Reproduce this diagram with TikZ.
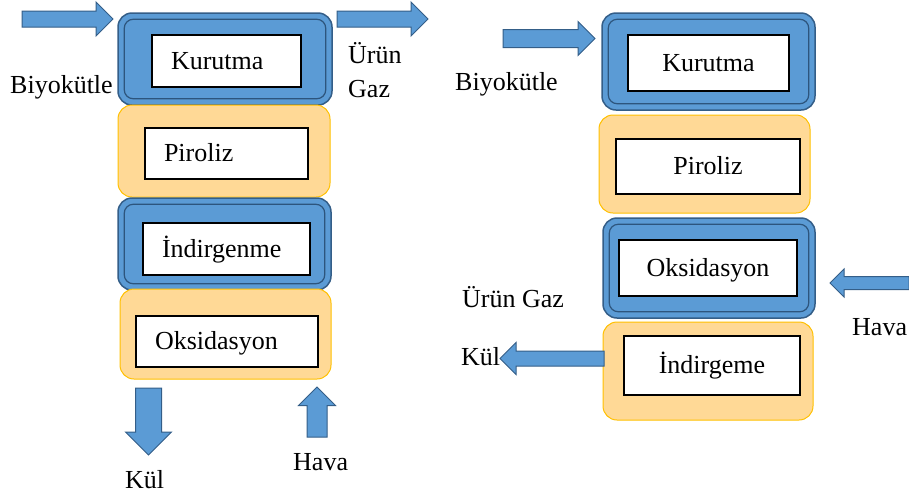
\documentclass[tikz,border=0pt]{standalone}
\usepackage{fontspec}
\setmainfont{Liberation Serif}
\usetikzlibrary{shapes.arrows, positioning, calc}

\definecolor{stageblue}{RGB}{91,155,213}
\definecolor{stageedge}{RGB}{52,94,136}
\definecolor{bevelline}{RGB}{45,85,125}
\definecolor{stageorange}{RGB}{255,217,150}
\definecolor{orangeedge}{RGB}{255,192,0}

\tikzstyle{bluestage} = [rectangle, draw=stageedge, line width=1.5pt, fill=stageblue, rounded corners=14pt, inner sep=0pt]
\tikzstyle{orangestage} = [rectangle, draw=orangeedge, line width=1pt, fill=stageorange, rounded corners=14pt, inner sep=0pt]
\tikzstyle{stepbox} = [rectangle, draw=black, line width=1.6pt, fill=white, inner sep=0pt, text height=20pt, text depth=4pt]
\tikzstyle{leftstep} = [stepbox, align=left, inner xsep=19pt]
\tikzstyle{bevel} = [draw=bevelline, line width=1.2pt, rounded corners=9pt]
\tikzstyle{flow} = [single arrow, draw=stageedge, line width=1pt, fill=stageblue, inner xsep=0pt, minimum width=0pt, single arrow tip angle=90, anchor=tip, outer sep=0pt]
\tikzstyle{plaintext} = [anchor=base west, inner sep=0pt]

\begin{document}
\begin{tikzpicture}[x=1pt, y=-1pt, font=\fontsize{26pt}{34pt}\selectfont]
    \useasboundingbox (0,0) rectangle (909,499);

    % Left column: stages
    \node[bluestage, minimum width=214pt, minimum height=92pt] (lkur) at (225,59) {};
    \node[orangestage, minimum width=212pt, minimum height=92pt] (lpir) at (224,151) {};
    \node[bluestage, minimum width=213pt, minimum height=92pt] (lind) at (224.5,244) {};
    \node[orangestage, minimum width=211pt, minimum height=90pt] (loks) at (225.5,334) {};
    \draw[bevel] ($(lkur.north west)+(7pt,-7pt)$) rectangle ($(lkur.south east)+(-7pt,7pt)$);
    \draw[bevel] ($(lind.north west)+(7pt,-7pt)$) rectangle ($(lind.south east)+(-7pt,7pt)$);

    \node[leftstep, text width=111pt, minimum height=52pt] (lkurin) at (226.5,61) {Kurutma};
    \node[leftstep, text width=125pt, minimum height=51pt] (lpirin) at (226.5,153.5) {Piroliz};
    \node[leftstep, text width=129pt, minimum height=52pt] (lindin) at (226.5,249) {İndirgenme};
    \node[leftstep, text width=144pt, minimum height=51pt] (loksin) at (227,341.5) {Oksidasyon};

    % Left column: feeds and outputs (placed by their tips)
    \node[flow, minimum height=91pt, inner ysep=7.5pt, single arrow head extend=9pt] (lbioarr) at (113,19) {};
    \node[flow, minimum height=91pt, inner ysep=7.5pt, single arrow head extend=9pt] (lgasarr) at (428,19) {};
    \node[flow, minimum height=67pt, inner xsep=12.5pt, inner ysep=0pt, single arrow head extend=10pt, shape border rotate=270] (lkularr) at (148.5,455) {};
    \node[flow, minimum height=50pt, inner xsep=9.5pt, inner ysep=0pt, single arrow head extend=8.5pt, shape border rotate=90] (lhavaarr) at (317,387) {};

    \node[plaintext] (lbio) at (10,93) {Biyokütle};
    \node[plaintext, align=left] (lgas) at (348,97) {Ürün\\Gaz};
    \node[plaintext] (lkul) at (125,488) {Kül};
    \node[plaintext] (lhava) at (293,470) {Hava};

    % Right column: stages
    \node[bluestage, minimum width=213pt, minimum height=97pt] (rkur) at (708.5,61.5) {};
    \node[orangestage, minimum width=211pt, minimum height=98pt] (rpir) at (704.5,164) {};
    \node[bluestage, minimum width=212pt, minimum height=100pt] (roks) at (709,268) {};
    \node[orangestage, minimum width=210pt, minimum height=98pt] (rind) at (708,371) {};
    \draw[bevel] ($(rkur.north west)+(7pt,-7pt)$) rectangle ($(rkur.south east)+(-7pt,7pt)$);
    \draw[bevel] ($(roks.north west)+(7pt,-7pt)$) rectangle ($(roks.south east)+(-7pt,7pt)$);

    \node[stepbox, minimum width=161pt, minimum height=56pt] (rkurin) at (708.5,63) {Kurutma};
    \node[stepbox, minimum width=184pt, minimum height=55pt] (rpirin) at (708,166.5) {Piroliz};
    \node[stepbox, minimum width=178pt, minimum height=56pt] (roksin) at (708,268) {Oksidasyon};
    \node[stepbox, minimum width=176pt, minimum height=59pt] (rindin) at (712,365.5) {İndirgeme};

    % Right column: feeds and outputs (placed by their tips)
    \node[flow, minimum height=92pt, inner ysep=8.5pt, single arrow head extend=8pt] (rbioarr) at (595,38.5) {};
    \node[flow, minimum height=79pt, inner ysep=6pt, single arrow head extend=7.5pt, shape border rotate=180] (rhavaarr) at (830,283) {};
    \node[flow, minimum height=104pt, inner ysep=7pt, single arrow head extend=8.5pt, shape border rotate=180] (rkularr) at (500,358.5) {};

    \node[plaintext] (rbio) at (455,90) {Biyokütle};
    \node[plaintext] (rgas) at (462,307) {Ürün Gaz};
    \node[plaintext] (rhava) at (852,335) {Hava};
    \node[plaintext] (rkul) at (461,365) {Kül};
\end{tikzpicture}
\end{document}
